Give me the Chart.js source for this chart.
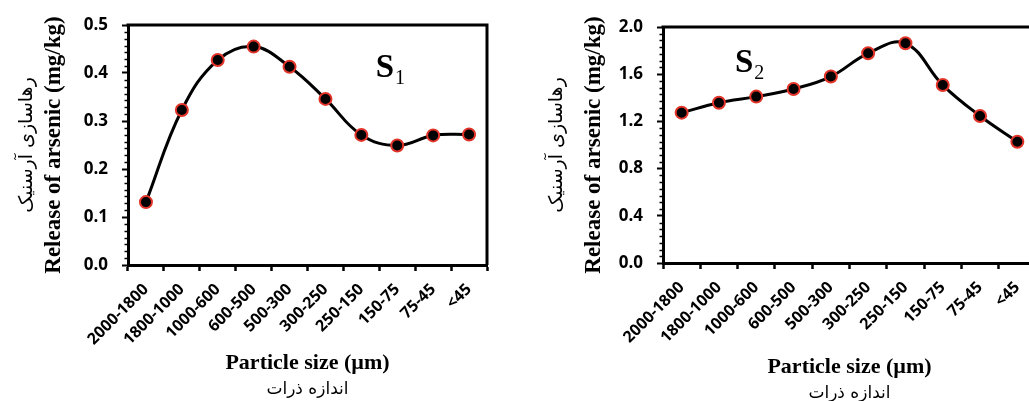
<!DOCTYPE html>
<html><head><meta charset="utf-8">
<script src="https://cdn.jsdelivr.net/npm/chart.js@4.4.1/dist/chart.umd.min.js"></script>
<style>
html,body{margin:0;padding:0;background:#fff;overflow:hidden;width:1029px;height:401px;}
.wrap{position:absolute;top:0;height:401px;}
canvas{display:block;}
</style></head><body>
<div class="wrap" style="left:0;width:500px"><canvas id="c1" width="500" height="401"></canvas></div>
<div class="wrap" style="left:515px;width:530px"><canvas id="c2" width="530" height="401"></canvas></div>
<script>
const categories = ['2000-1800','1800-1000','1000-600','600-500','500-300','300-250','250-150','150-75','75-45','<45'];
const s1Values = [0.131, 0.323, 0.427, 0.455, 0.413, 0.346, 0.271, 0.249, 0.270, 0.272];
const s2Values = [1.274, 1.358, 1.410, 1.475, 1.580, 1.777, 1.862, 1.508, 1.246, 1.028];
const s1YTicks = [0.0, 0.1, 0.2, 0.3, 0.4, 0.5];
const s2YTicks = [0.0, 0.4, 0.8, 1.2, 1.6, 2.0];
const xTitle = 'Particle size (µm)';
const xTitleFa = 'اندازه ذرات';
const yTitle = 'Release of arsenic (mg/kg)';
const yTitleFa = 'رهاسازی آرسنیک';

const decor = {
  id: 'decor',
  afterDraw(chart, args, o) {
    const ctx = chart.ctx, a = chart.chartArea;
    const xs = chart.scales.x, ys = chart.scales.y;
    ctx.save();
    ctx.strokeStyle = '#000';
    ctx.lineWidth = 3;
    ctx.beginPath();
    ctx.moveTo(a.left - 1.5, a.top);
    ctx.lineTo(a.right, a.top);
    ctx.lineTo(a.right, a.bottom);
    ctx.stroke();
    // minor ticks
    ctx.lineWidth = 1.5;
    const step = o.yStep / o.minorDiv;
    const n = Math.round((ys.max - ys.min) / step);
    for (let i = 0; i <= n; i++) {
      if (i % o.minorDiv === 0) continue;
      const p = Math.round(ys.getPixelForValue(ys.min + i * step)) + 0.5;
      ctx.beginPath();
      ctx.moveTo(ys.right - 3.5, p);
      ctx.lineTo(ys.right, p);
      ctx.stroke();
    }
    // Persian titles
    ctx.fillStyle = '#000';
    ctx.font = '19px "DejaVu Sans"';
    ctx.textAlign = 'center';
    ctx.textBaseline = 'middle';
    ctx.direction = 'rtl';
    ctx.save();
    ctx.translate(ys.left + o.faYOffset, (a.top + a.bottom) / 2);
    ctx.rotate(-Math.PI / 2);
    ctx.fillText(yTitleFa, 0, 0);
    ctx.restore();
    ctx.font = '17px "DejaVu Sans"';
    ctx.fillText(xTitleFa, (a.left + a.right) / 2, xs.bottom - o.faXOffset);
    // S label
    ctx.direction = 'ltr';
    ctx.textAlign = 'left';
    ctx.textBaseline = 'alphabetic';
    const sx = xs.getPixelForValue(o.sAt[0]);
    const sy = ys.getPixelForValue(o.sAt[1]);
    ctx.font = 'bold 33px "Liberation Serif"';
    ctx.fillText('S', sx, sy);
    const w = ctx.measureText('S').width;
    ctx.font = '20px "Liberation Serif"';
    ctx.fillText(o.sub, sx + w + 1, sy + 7);
    ctx.restore();
  }
};

function build(id, values, yTicks, cfg) {
  const step = yTicks[1] - yTicks[0];
  return new Chart(document.getElementById(id), {
    type: 'line',
    data: {
      labels: categories,
      datasets: [{
        data: values,
        borderColor: '#000',
        borderWidth: 3,
        tension: 0.4,
        fill: false,
        clip: false,
        pointRadius: 6,
        pointHoverRadius: 6,
        pointBorderWidth: 2,
        pointBackgroundColor: '#000',
        pointBorderColor: '#e3342a'
      }]
    },
    options: {
      responsive: false,
      animation: false,
      events: [],
      layout: { padding: { top: cfg.top, right: cfg.right, left: 0, bottom: 0 } },
      plugins: {
        legend: { display: false },
        tooltip: { enabled: false },
        decor: { yStep: step, minorDiv: 7, faYOffset: cfg.faY, faXOffset: cfg.faX, sAt: cfg.sAt, sub: cfg.sub }
      },
      scales: {
        x: {
          type: 'category',
          offset: true,
          grid: { offset: true, drawOnChartArea: false, color: '#000', tickLength: 6, tickWidth: 2.5 },
          border: { color: '#000', width: 3 },
          ticks: { color: '#000', font: { family: 'Open Sans', weight: 'bold', size: 16 }, minRotation: 45, maxRotation: 45, padding: 9, autoSkip: false },
          title: { display: true, text: xTitle, color: '#000', font: { family: 'Liberation Serif', weight: 'bold', size: 22 }, padding: { top: 0, bottom: cfg.xTitlePad } },
          afterFit: s => { s.height = cfg.xHeight; }
        },
        y: {
          min: yTicks[0],
          max: yTicks[yTicks.length - 1],
          afterBuildTicks: s => { s.ticks = yTicks.map(v => ({ value: v })); },
          ticks: { color: '#000', font: { family: 'Open Sans', weight: 'bold', size: 17 }, padding: 14, callback: v => Number(v).toFixed(1) },
          grid: { drawOnChartArea: false, color: '#000', tickLength: 6, tickWidth: 2 },
          border: { color: '#000', width: 3 },
          title: { display: true, text: yTitle, color: '#000', font: { family: 'Liberation Serif', weight: 'bold', size: 23 }, padding: { top: cfg.yTitlePad, bottom: 0 } },
          afterFit: s => { s.width = cfg.yWidth; }
        }
      }
    },
    plugins: [decor]
  });
}

build('c1', s1Values, s1YTicks, { top: 25, right: 13, xHeight: 136, yWidth: 128, xTitlePad: 24, yTitlePad: 40, faY: 27, faX: 11, sAt: [6.4, 0.392], sub: '1' });
build('c2', s2Values, s2YTicks, { top: 27, right: 9, xHeight: 138, yWidth: 148, xTitlePad: 20, yTitlePad: 65, faY: 42, faX: 7, sAt: [1.43, 1.62], sub: '2' });
</script>
</body></html>
